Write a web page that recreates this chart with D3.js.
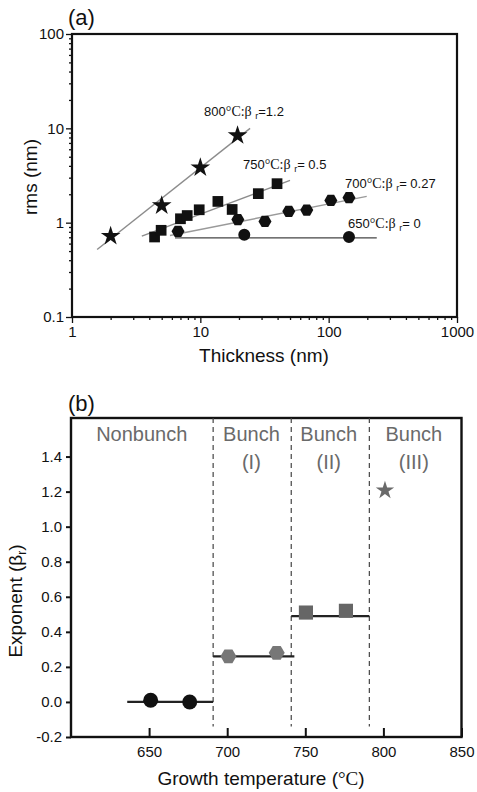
<!DOCTYPE html>
<html>
<head>
<meta charset="utf-8">
<script src="https://cdn.jsdelivr.net/npm/d3@7"></script>
<style>
  body { margin: 0; background: #fff; }
  text { font-family: "Liberation Sans", Arial, sans-serif; }
  .serif { font-family: "Liberation Serif", "Times New Roman", serif; }
</style>
</head>
<body>
<div id="chart"></div>
<script>
// ---- panel (a) data : rms roughness vs thickness (log-log) ----
let star800 = [[2, 0.72], [5, 1.52], [10, 3.83], [19.5, 8.4]]
let square750 = [[4.4, 0.705], [4.95, 0.83], [7, 1.1], [7.9, 1.19], [9.8, 1.37], [13.7, 1.68], [17.7, 1.38], [28.3, 2.03], [39.6, 2.59]]
let hex700 = [[6.7, 0.81], [19.6, 1.08], [31.9, 1.03], [48.9, 1.32], [67.5, 1.36], [104, 1.72], [144, 1.84]]
let circle650 = [[22, 0.746], [144, 0.705]]

// fitted lines (end points in data units)
let fit800 = [[1.57, 0.52], [24.4, 10.0]]
let fit750 = [[3.5, 0.72], [50, 2.81]]
let fit700 = [[5.8, 0.73], [198, 1.9]]
let fit650 = [[6.35, 0.69], [237, 0.69]]

let labelsA = [
  {t: "800", beta: "=1.2", x: 10.7, y: 13.6},
  {t: "750", beta: "= 0.5", x: 21.5, y: 3.74},
  {t: "700", beta: "= 0.27", x: 134, y: 2.35},
  {t: "650", beta: "= 0", x: 141.6, y: 0.885}
]
let xTicksA = [1, 10, 100, 1000]
let yTicksA = [0.1, 1, 10, 100]

// ---- panel (b) data : exponent vs growth temperature ----
let circleB = [[651, 0.01], [676, 0.0]]
let hexB = [[700.8, 0.26], [731.7, 0.28]]
let squareB = [[750.4, 0.51], [776, 0.52]]
let starB = [[801, 1.207]]
let stepsB = [[636, 691, 0.0], [691, 743, 0.26], [741, 791, 0.49]]
let dividersB = [691, 741, 791]
let regionsB = [
  {l1: "Nonbunch", l2: "", x: 645.3},
  {l1: "Bunch", l2: "(I)", x: 715.5},
  {l1: "Bunch", l2: "(II)", x: 765},
  {l1: "Bunch", l2: "(III)", x: 819.5}
]
let xTicksB = [650, 700, 750, 800, 850]
let yTicksB = [-0.2, 0, 0.2, 0.4, 0.6, 0.8, 1.0, 1.2, 1.4]

let width = 477
let height = 792

let svg = d3.select("#chart").append("svg")
    .attr("width", width)
    .attr("height", height)

// custom hexagon symbol (pointy left / right)
let symHex = {
  draw: function(ctx, size){
    let r = Math.sqrt(2 * size / (3 * Math.sqrt(3)))
    for (let i = 0; i < 6; i++){
      let a = i * Math.PI / 3
      if (i === 0) ctx.moveTo(r * Math.cos(a), r * Math.sin(a))
      else ctx.lineTo(r * Math.cos(a), r * Math.sin(a))
    }
    ctx.closePath()
  }
}

function drawMarks(g, data, x, y, type, size, color){
  g.append("g").selectAll("path").data(data).enter()
    .append("path")
    .attr("d", d3.symbol().type(type).size(size))
    .attr("transform", d => `translate(${x(d[0])},${y(d[1])})`)
    .attr("fill", color)
}

// ================= panel (a) =================
let xA = d3.scaleLog().domain([1, 1000]).range([72, 457])
let yA = d3.scaleLog().domain([0.1, 100]).range([317, 34])

let gA = svg.append("g")

let minorX = [], minorY = []
for (let d = 1; d < 1000; d *= 10){
  for (let k = 2; k <= 9; k++) minorX.push(d * k)
}
for (let d = 0.1; d < 100; d *= 10){
  for (let k = 2; k <= 9; k++) minorY.push(d * k)
}

// minor ticks
gA.append("g")
  .attr("transform", "translate(0,317)")
  .call(d3.axisBottom(xA).tickValues(minorX).tickSize(3).tickFormat(""))
gA.append("g")
  .attr("transform", "translate(72,0)")
  .call(d3.axisLeft(yA).tickValues(minorY).tickSize(3).tickFormat(""))

// major ticks with labels
gA.append("g")
  .attr("class", "xAxisA")
  .attr("transform", "translate(0,317)")
  .call(d3.axisBottom(xA).tickValues(xTicksA).tickSize(6).tickPadding(3).tickFormat(d3.format("")))
gA.append("g")
  .attr("class", "yAxisA")
  .attr("transform", "translate(72,0)")
  .call(d3.axisLeft(yA).tickValues(yTicksA).tickSize(6).tickPadding(2).tickFormat(d => String(d)))

gA.selectAll(".domain").remove()
gA.selectAll(".tick line").attr("stroke", "#111").attr("stroke-width", 1.3)
gA.selectAll(".tick text").style("font-size", "15px").style("fill", "#111")

gA.append("rect")
  .attr("x", 72).attr("y", 34)
  .attr("width", 457 - 72).attr("height", 317 - 34)
  .attr("fill", "none").attr("stroke", "#111").attr("stroke-width", 2.2)

let lineA = d3.line().x(d => xA(d[0])).y(d => yA(d[1]))
gA.append("path").attr("d", lineA(fit800)).attr("stroke", "#8c8c8c").attr("stroke-width", 1.4).attr("fill", "none")
gA.append("path").attr("d", lineA(fit750)).attr("stroke", "#8c8c8c").attr("stroke-width", 1.4).attr("fill", "none")
gA.append("path").attr("d", lineA(fit700)).attr("stroke", "#9a9a9a").attr("stroke-width", 1.4).attr("fill", "none")
gA.append("path").attr("d", lineA(fit650)).attr("stroke", "#444").attr("stroke-width", 1.4).attr("fill", "none")

drawMarks(gA, hex700, xA, yA, symHex, 110, "#111")
drawMarks(gA, circle650, xA, yA, d3.symbolCircle, 113, "#111")
drawMarks(gA, square750, xA, yA, d3.symbolSquare, 115, "#111")
drawMarks(gA, star800, xA, yA, d3.symbolStar, 120, "#111")

labelsA.forEach(function(l){
  let t = gA.append("text")
    .attr("x", xA(l.x)).attr("y", yA(l.y))
    .style("font-size", "13px").style("fill", "#111")
  t.append("tspan").text(l.t)
  t.append("tspan").attr("class", "serif").style("font-size", "14px").text("°C:β ")
  t.append("tspan").attr("dy", 3).style("font-size", "9px").text("r")
  t.append("tspan").attr("dy", -3).text(l.beta)
})

svg.append("text").attr("x", 68).attr("y", 25).style("font-size", "22px").style("fill", "#111").text("(a)")
svg.append("text")
  .attr("transform", "translate(37,177) rotate(-90)")
  .attr("text-anchor", "middle")
  .style("font-size", "19px").style("fill", "#111")
  .text("rms (nm)")
svg.append("text")
  .attr("x", 264).attr("y", 362)
  .attr("text-anchor", "middle")
  .style("font-size", "19px").style("fill", "#111")
  .text("Thickness (nm)")

// ================= panel (b) =================
let xB = d3.scaleLinear().domain([600, 850]).range([71, 461.5])
let yB = d3.scaleLinear().domain([-0.2, 1.62]).range([737, 418])

let gB = svg.append("g")

gB.append("g")
  .attr("transform", "translate(0,737)")
  .call(d3.axisBottom(xB).tickValues(xTicksB).tickSizeInner(-9).tickSizeOuter(0).tickPadding(9).tickFormat(d3.format("d")))
gB.append("g")
  .attr("transform", "translate(71,0)")
  .call(d3.axisLeft(yB).tickValues(yTicksB).tickSize(5).tickPadding(4).tickFormat(d => d.toFixed(1)))

gB.selectAll(".domain").remove()
gB.selectAll(".tick line").attr("stroke", "#111").attr("stroke-width", 2)
gB.selectAll(".tick text").style("font-size", "15px").style("fill", "#111")

gB.append("rect")
  .attr("x", 71).attr("y", 418)
  .attr("width", 461.5 - 71).attr("height", 737 - 418)
  .attr("fill", "none").attr("stroke", "#111").attr("stroke-width", 2.4)

gB.selectAll(".divider").data(dividersB).enter()
  .append("line")
  .attr("class", "divider")
  .attr("x1", d => xB(d)).attr("x2", d => xB(d))
  .attr("y1", yB(1.62)).attr("y2", yB(-0.14))
  .attr("stroke", "#444").attr("stroke-width", 1.2)
  .attr("stroke-dasharray", "5,4")

gB.selectAll(".step").data(stepsB).enter()
  .append("line")
  .attr("class", "step")
  .attr("x1", d => xB(d[0])).attr("x2", d => xB(d[1]))
  .attr("y1", d => yB(d[2])).attr("y2", d => yB(d[2]))
  .attr("stroke", "#222").attr("stroke-width", 2.2)

drawMarks(gB, circleB, xB, yB, d3.symbolCircle, 175, "#111")
drawMarks(gB, hexB, xB, yB, symHex, 165, "#777")
drawMarks(gB, squareB, xB, yB, d3.symbolSquare, 200, "#666")
drawMarks(gB, starB, xB, yB, d3.symbolStar, 105, "#6a6a6a")

regionsB.forEach(function(r){
  gB.append("text")
    .attr("x", xB(r.x)).attr("y", 441)
    .attr("text-anchor", "middle")
    .style("font-size", "20px").style("fill", "#6a6a6a")
    .text(r.l1)
  gB.append("text")
    .attr("x", xB(r.x)).attr("y", 469)
    .attr("text-anchor", "middle")
    .style("font-size", "20px").style("fill", "#6a6a6a")
    .text(r.l2)
})

svg.append("text").attr("x", 68).attr("y", 411).style("font-size", "22px").style("fill", "#111").text("(b)")

let yLab = svg.append("text")
  .attr("transform", "translate(22,601) rotate(-90)")
  .attr("text-anchor", "middle")
  .style("font-size", "19px").style("fill", "#111")
yLab.append("tspan").text("Exponent (β")
yLab.append("tspan").attr("dy", 4).style("font-size", "12px").text("r")
yLab.append("tspan").attr("dy", -4).text(")")

let xLab = svg.append("text")
  .attr("x", 261).attr("y", 785)
  .attr("text-anchor", "middle")
  .style("font-size", "19px").style("fill", "#111")
xLab.append("tspan").text("Growth temperature (")
xLab.append("tspan").attr("class", "serif").text("°C")
xLab.append("tspan").text(")")
</script>
</body>
</html>
